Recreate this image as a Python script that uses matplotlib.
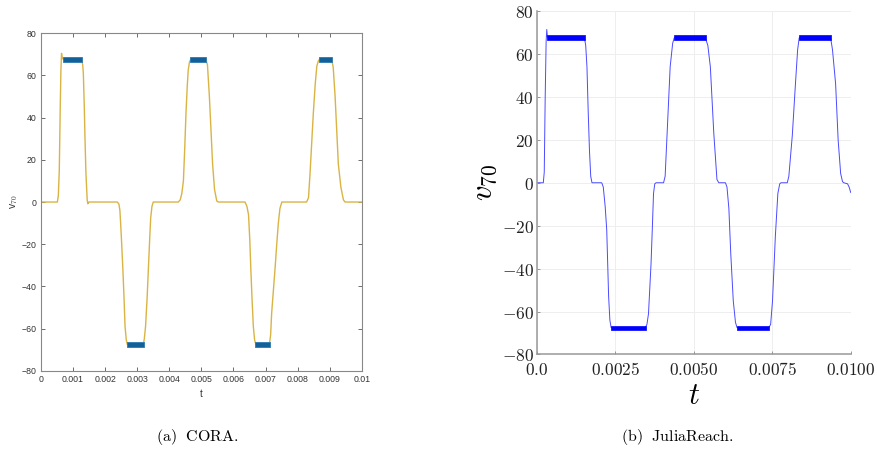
import matplotlib
matplotlib.use("Agg")
import matplotlib.pyplot as plt
from matplotlib.ticker import FixedLocator

plt.rcParams["mathtext.fontset"] = "cm"

# ---- (a) CORA: simulation trace (breakpoints) ----
cora_t = [0, 0.00051, 0.00054, 0.00057, 0.00060, 0.00062, 0.00064, 0.00066, 0.00069,
          0.00127, 0.00130, 0.00132, 0.00135, 0.00137, 0.00140, 0.00144, 0.00146, 0.00149,
          0.00238, 0.00243, 0.00246, 0.00250, 0.00255, 0.00259, 0.00262, 0.00266, 0.00269,
          0.00319, 0.00322, 0.00326, 0.00331, 0.00335, 0.00339, 0.00342, 0.00346, 0.00350,
          0.00428, 0.00434, 0.00439, 0.00444, 0.00448, 0.00452, 0.00456, 0.00459, 0.00463, 0.00467,
          0.00514, 0.00519, 0.00525, 0.00530, 0.00535, 0.00541, 0.00548, 0.00553,
          0.00636, 0.00642, 0.00647, 0.00651, 0.00654, 0.00658, 0.00662, 0.00666, 0.00670,
          0.00712, 0.00716, 0.00719, 0.00725, 0.00730, 0.00735, 0.00740, 0.00745, 0.00751,
          0.00828, 0.00834, 0.00839, 0.00844, 0.00849, 0.00855, 0.00860, 0.00865, 0.00869,
          0.00906, 0.00911, 0.00917, 0.00922, 0.00927, 0.00935, 0.00943, 0.00948, 0.01]
cora_v = [0, 0, 3, 15, 45, 62, 70.5, 68.5, 67.7,
          67.7, 65, 61, 45, 31, 14, 1, -0.8, 0,
          0, -1, -4, -15, -31, -46, -59, -65.5, -67.5,
          -67.5, -65, -59, -45, -31, -17, -7.5, -2, 0,
          0, 1, 4, 10, 25, 42, 55, 62.5, 66.5, 67.7,
          67.7, 65, 50, 34, 18, 6, 0.5, 0,
          0, -2, -6, -18, -31, -46, -59, -65.5, -67.5,
          -67.5, -63, -53, -41, -31, -20, -10, -3, 0,
          0, 2, 14, 28, 42, 56, 64.5, 67, 67.7,
          67.7, 64, 50, 34, 18, 7, 1, 0, 0]
# reachable-set bands on the plateaus
cora_band_t0 = [0.00068, 0.00267, 0.00465, 0.00668, 0.00867]
cora_band_t1 = [0.00128, 0.00320, 0.00515, 0.00713, 0.00907]
cora_band_lo = [66.5, -68.7, 66.5, -68.7, 66.5]
cora_band_hi = [68.7, -66.5, 68.7, -66.5, 68.7]
cora_xticks = [0, 0.001, 0.002, 0.003, 0.004, 0.005, 0.006, 0.007, 0.008, 0.009, 0.01]
cora_xlabels = ["0", "0.001", "0.002", "0.003", "0.004", "0.005", "0.006", "0.007",
                "0.008", "0.009", "0.01"]
yticks = [-80, -60, -40, -20, 0, 20, 40, 60, 80]

# ---- (b) JuliaReach ----
jr_t = [0, 0.00021, 0.00024, 0.00027, 0.00030, 0.00032, 0.00034, 0.00037,
        0.00152, 0.00156, 0.00160, 0.00164, 0.00168, 0.00172, 0.00176,
        0.00207, 0.00212, 0.00218, 0.00223, 0.00229, 0.00233, 0.00237,
        0.00346, 0.00351, 0.00356, 0.00364, 0.00368, 0.00372, 0.00376, 0.00380,
        0.00404, 0.00409, 0.00415, 0.00425, 0.00433, 0.00438,
        0.00537, 0.00545, 0.00553, 0.00564, 0.00574, 0.00580,
        0.00601, 0.00606, 0.00612, 0.00618, 0.00626, 0.00633, 0.00638,
        0.00739, 0.00745, 0.00751, 0.00760, 0.00768, 0.00774, 0.00778,
        0.00798, 0.00803, 0.00814, 0.00824, 0.00831, 0.00836,
        0.00936, 0.00942, 0.00952, 0.00960, 0.00968, 0.00974, 0.00978,
        0.00990, 0.00995, 0.01]
jr_v = [0, 0, 5, 40, 66, 71.4, 68, 67.5,
        67.5, 64, 54, 33, 15, 3, 0,
        0, -2, -11, -22, -53, -64, -67.5,
        -67.5, -66, -61, -38, -22, -5, -0.5, 0,
        0, 3, 22, 54, 65, 67.5,
        67.5, 64, 54, 23, 1.5, 0,
        0, -2, -12, -33, -55, -65, -67.5,
        -67.5, -66, -55, -25, -5, -0.5, 0,
        0, 3, 22, 46, 62, 67.5,
        67.5, 62, 46, 20, 4.3, 0.5, 0,
        -0.5, -2, -4.5]
jr_band_t0 = [0.00033, 0.00236, 0.00437, 0.00637, 0.00835]
jr_band_t1 = [0.00153, 0.00347, 0.00538, 0.00740, 0.00937]
jr_band_lo = [66.6, -68.6, 66.6, -68.6, 66.6]
jr_band_hi = [68.6, -66.6, 68.6, -66.6, 68.6]
jr_xticks = [0.0, 0.0025, 0.005, 0.0075, 0.01]
jr_xlabels = ["0.0", "0.0025", "0.0050", "0.0075", "0.0100"]

fig = plt.figure(figsize=(8.78, 4.57), dpi=100)

# (a) CORA, MATLAB look
ax = fig.add_axes([0.0467, 0.1888, 0.3653, 0.7383])
ax.plot(cora_t, cora_v, color="#d9b444", lw=1.0)
for t0, t1, lo, hi in zip(cora_band_t0, cora_band_t1, cora_band_lo, cora_band_hi):
    ax.fill_between([t0, t1], [lo, lo], [hi, hi], color="#12609a", lw=0.6,
                    edgecolor="#2c7ab0", zorder=3)
ax.set_xlim(0, 0.01)
ax.set_ylim(-80, 80)
ax.set_xticks(cora_xticks)
ax.set_xticklabels(cora_xlabels)
ax.set_yticks(yticks)
ax.tick_params(direction="in", length=3, width=0.6, color="#555555",
               labelsize=6.3, labelcolor="#333333", top=True, right=True, pad=3)
for lab in ax.get_xticklabels() + ax.get_yticklabels():
    lab.set_fontfamily("Liberation Sans")
for s in ax.spines.values():
    s.set_color("#888888")
    s.set_linewidth(0.8)
ax.set_xlabel("t", fontsize=7, family="Liberation Sans", color="#333333", labelpad=4)
ax.set_ylabel("v$_{70}$", fontsize=7.5, family="Liberation Sans", color="#333333",
              labelpad=1)

# (b) JuliaReach, Plots.jl look
bx = fig.add_axes([0.6113, 0.2243, 0.3576, 0.7516])
bx.grid(True, color="#eeeeee", lw=0.7)
bx.set_axisbelow(True)
bx.plot(jr_t, jr_v, color="#4a4aff", lw=0.7)
for t0, t1, lo, hi in zip(jr_band_t0, jr_band_t1, jr_band_lo, jr_band_hi):
    bx.fill_between([t0, t1], [lo, lo], [hi, hi], color="#0000ff", lw=0.5,
                    edgecolor="#0000ff", zorder=3)
bx.set_xlim(0, 0.01)
bx.set_ylim(-80, 80)
bx.xaxis.set_major_locator(FixedLocator(jr_xticks))
bx.set_xticklabels(["$%s$" % s for s in jr_xlabels])
bx.set_yticks(yticks)
bx.set_yticklabels(["$%d$" % v for v in yticks])
bx.tick_params(direction="in", length=2.5, width=0.6, color="#888888",
               labelsize=12.5, labelcolor="#222222", pad=2)
bx.tick_params(axis="x", pad=5)
bx.spines["top"].set_visible(False)
bx.spines["right"].set_visible(False)
bx.spines["left"].set_color("#999999")
bx.spines["bottom"].set_color("#999999")
bx.spines["left"].set_linewidth(1.1)
bx.spines["bottom"].set_linewidth(1.1)
bx.set_xlabel("$t$", fontsize=22, labelpad=1)
bx.set_ylabel("$v_{70}$", fontsize=22, labelpad=2)

fig.text(197 / 878, 1 - 437 / 457, r"$\mathrm{(a)\ \ CORA.}$", ha="center",
         va="center", fontsize=11.5)
fig.text(677 / 878, 1 - 437 / 457, r"$\mathrm{(b)\ \ JuliaReach.}$", ha="center",
         va="center", fontsize=11.5)

fig.savefig("out.png", dpi=100)
